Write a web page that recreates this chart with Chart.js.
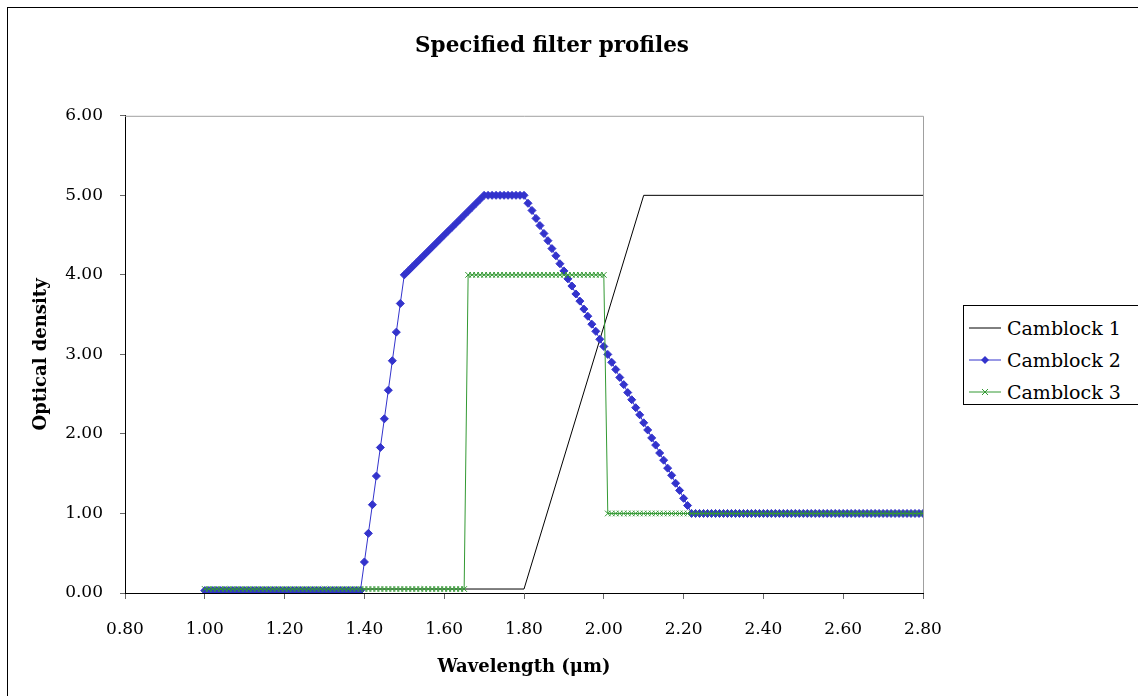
<!DOCTYPE html>
<html>
<head>
<meta charset="utf-8">
<script src="https://cdn.jsdelivr.net/npm/chart.js@4/dist/chart.umd.min.js"></script>
<style>
  body { margin: 0; background: #fff; }
  #wrap { position: relative; width: 1138px; height: 696px; overflow: hidden; }
  #frame { position: absolute; left: 7px; top: 7px; width: 1150px; height: 710px; border: 1px solid #000; box-sizing: border-box; }
  #chart { position: absolute; left: 0; top: 0; }
  #legend { position: absolute; left: 963px; top: 305px; width: 176px; height: 100px; border: 1px solid #000; box-sizing: border-box; background: #fff;
            font-family: "DejaVu Serif", serif; font-size: 19px; color: #000; padding-top: 6px; }
  #legend div { height: 32px; display: flex; align-items: center; }
  #legend svg { margin-left: 5px; margin-right: 6px; }
</style>
</head>
<body>
<div id="wrap">
  <div id="frame"></div>
  <canvas id="chart" width="1138" height="696"></canvas>
  <div id="legend"></div>
</div>
<script>
// wavelength grid (um)
const wavelength = [
  1.00,1.01,1.02,1.03,1.04,1.05,1.06,1.07,1.08,1.09,
  1.10,1.11,1.12,1.13,1.14,1.15,1.16,1.17,1.18,1.19,
  1.20,1.21,1.22,1.23,1.24,1.25,1.26,1.27,1.28,1.29,
  1.30,1.31,1.32,1.33,1.34,1.35,1.36,1.37,1.38,1.39,
  1.40,1.41,1.42,1.43,1.44,1.45,1.46,1.47,1.48,1.49,
  1.50,1.51,1.52,1.53,1.54,1.55,1.56,1.57,1.58,1.59,
  1.60,1.61,1.62,1.63,1.64,1.65,1.66,1.67,1.68,1.69,
  1.70,1.71,1.72,1.73,1.74,1.75,1.76,1.77,1.78,1.79,
  1.80,1.81,1.82,1.83,1.84,1.85,1.86,1.87,1.88,1.89,
  1.90,1.91,1.92,1.93,1.94,1.95,1.96,1.97,1.98,1.99,
  2.00,2.01,2.02,2.03,2.04,2.05,2.06,2.07,2.08,2.09,
  2.10,2.11,2.12,2.13,2.14,2.15,2.16,2.17,2.18,2.19,
  2.20,2.21,2.22,2.23,2.24,2.25,2.26,2.27,2.28,2.29,
  2.30,2.31,2.32,2.33,2.34,2.35,2.36,2.37,2.38,2.39,
  2.40,2.41,2.42,2.43,2.44,2.45,2.46,2.47,2.48,2.49,
  2.50,2.51,2.52,2.53,2.54,2.55,2.56,2.57,2.58,2.59,
  2.60,2.61,2.62,2.63,2.64,2.65,2.66,2.67,2.68,2.69,
  2.70,2.71,2.72,2.73,2.74,2.75,2.76,2.77,2.78,2.79,
  2.80
];

// Camblock 1 (corner points only, line without markers)
const camblock1X = [1.00, 1.80, 2.10, 2.80];
const camblock1Y = [0.05, 0.05, 5.00, 5.00];

// Camblock 2 on the wavelength grid
const camblock2 = [
  0.03,0.03,0.03,0.03,0.03,0.03,0.03,0.03,0.03,0.03,
  0.03,0.03,0.03,0.03,0.03,0.03,0.03,0.03,0.03,0.03,
  0.03,0.03,0.03,0.03,0.03,0.03,0.03,0.03,0.03,0.03,
  0.03,0.03,0.03,0.03,0.03,0.03,0.03,0.03,0.03,0.03,
  0.39,0.75,1.11,1.47,1.83,2.19,2.55,2.92,3.28,3.64,
  4.00,4.05,4.10,4.15,4.20,4.25,4.30,4.35,4.40,4.45,
  4.50,4.55,4.60,4.65,4.70,4.75,4.80,4.85,4.90,4.95,
  5.00,5.00,5.00,5.00,5.00,5.00,5.00,5.00,5.00,5.00,
  5.00,4.90,4.81,4.71,4.62,4.52,4.43,4.33,4.24,4.14,
  4.05,3.95,3.86,3.76,3.67,3.57,3.48,3.38,3.29,3.19,
  3.10,3.00,2.90,2.81,2.71,2.62,2.52,2.43,2.33,2.24,
  2.14,2.05,1.95,1.86,1.76,1.67,1.57,1.48,1.38,1.29,
  1.19,1.10,1.00,1.00,1.00,1.00,1.00,1.00,1.00,1.00,
  1.00,1.00,1.00,1.00,1.00,1.00,1.00,1.00,1.00,1.00,
  1.00,1.00,1.00,1.00,1.00,1.00,1.00,1.00,1.00,1.00,
  1.00,1.00,1.00,1.00,1.00,1.00,1.00,1.00,1.00,1.00,
  1.00,1.00,1.00,1.00,1.00,1.00,1.00,1.00,1.00,1.00,
  1.00,1.00,1.00,1.00,1.00,1.00,1.00,1.00,1.00,1.00,
  1.00
];

// Camblock 3 on the wavelength grid
const camblock3 = [
  0.05,0.05,0.05,0.05,0.05,0.05,0.05,0.05,0.05,0.05,
  0.05,0.05,0.05,0.05,0.05,0.05,0.05,0.05,0.05,0.05,
  0.05,0.05,0.05,0.05,0.05,0.05,0.05,0.05,0.05,0.05,
  0.05,0.05,0.05,0.05,0.05,0.05,0.05,0.05,0.05,0.05,
  0.05,0.05,0.05,0.05,0.05,0.05,0.05,0.05,0.05,0.05,
  0.05,0.05,0.05,0.05,0.05,0.05,0.05,0.05,0.05,0.05,
  0.05,0.05,0.05,0.05,0.05,0.05,4.00,4.00,4.00,4.00,
  4.00,4.00,4.00,4.00,4.00,4.00,4.00,4.00,4.00,4.00,
  4.00,4.00,4.00,4.00,4.00,4.00,4.00,4.00,4.00,4.00,
  4.00,4.00,4.00,4.00,4.00,4.00,4.00,4.00,4.00,4.00,
  4.00,1.00,1.00,1.00,1.00,1.00,1.00,1.00,1.00,1.00,
  1.00,1.00,1.00,1.00,1.00,1.00,1.00,1.00,1.00,1.00,
  1.00,1.00,1.00,1.00,1.00,1.00,1.00,1.00,1.00,1.00,
  1.00,1.00,1.00,1.00,1.00,1.00,1.00,1.00,1.00,1.00,
  1.00,1.00,1.00,1.00,1.00,1.00,1.00,1.00,1.00,1.00,
  1.00,1.00,1.00,1.00,1.00,1.00,1.00,1.00,1.00,1.00,
  1.00,1.00,1.00,1.00,1.00,1.00,1.00,1.00,1.00,1.00,
  1.00,1.00,1.00,1.00,1.00,1.00,1.00,1.00,1.00,1.00,
  1.00
];

const seriesNames = ['Camblock 1', 'Camblock 2', 'Camblock 3'];
const xTicks = [0.80, 1.00, 1.20, 1.40, 1.60, 1.80, 2.00, 2.20, 2.40, 2.60, 2.80];
const yTicks = [0, 1, 2, 3, 4, 5, 6];

const BLUE = '#3333cc';
const GREEN = '#339933';
const FONT = '"DejaVu Serif", serif';

function pairs(xs, ys) {
    return xs.map(function(x, i) { return { x: x, y: ys[i] }; });
}

// grey top/right edges of the plot area
const plotEdges = {
    id: 'plotEdges',
    beforeDatasetsDraw: function(chart) {
        const a = chart.chartArea;
        const ctx = chart.ctx;
        ctx.save();
        ctx.strokeStyle = '#a0a0a0';
        ctx.lineWidth = 1;
        ctx.beginPath();
        ctx.moveTo(a.left, a.top + 0.5);
        ctx.lineTo(a.right + 0.5, a.top + 0.5);
        ctx.lineTo(a.right + 0.5, a.bottom);
        ctx.stroke();
        ctx.restore();
    }
};

const ctx = document.getElementById('chart').getContext('2d');
new Chart(ctx, {
    type: 'line',
    data: {
        datasets: [
            {
                label: seriesNames[0],
                data: pairs(camblock1X, camblock1Y),
                borderColor: '#000',
                borderWidth: 1,
                pointRadius: 0,
                tension: 0,
                order: 3
            },
            {
                label: seriesNames[1],
                data: pairs(wavelength, camblock2),
                borderColor: BLUE,
                backgroundColor: BLUE,
                borderWidth: 1,
                pointStyle: 'rectRot',
                pointRadius: 4,
                pointBorderWidth: 1,
                pointBorderColor: BLUE,
                pointBackgroundColor: BLUE,
                tension: 0,
                order: 2
            },
            {
                label: seriesNames[2],
                data: pairs(wavelength, camblock3),
                borderColor: GREEN,
                backgroundColor: GREEN,
                borderWidth: 1,
                pointStyle: 'crossRot',
                pointRadius: 4,
                pointBorderWidth: 1,
                pointBorderColor: GREEN,
                tension: 0,
                order: 1
            }
        ]
    },
    options: {
        responsive: false,
        animation: false,
        events: [],
        layout: { padding: { left: 0, right: 34, top: 0, bottom: 0 } },
        plugins: {
            legend: { display: false },
            tooltip: { enabled: false },
            title: {
                display: true,
                text: 'Specified filter profiles',
                color: '#000',
                font: { family: FONT, size: 21.5, weight: 'bold', lineHeight: 1.2 },
                padding: { top: 34, bottom: 56 }
            }
        },
        scales: {
            x: {
                type: 'linear',
                min: 0.8,
                max: 2.8,
                afterFit: function(scale) { scale.height = 103; },
                afterBuildTicks: function(scale) {
                    scale.ticks = xTicks.map(function(v) { return { value: v }; });
                },
                border: { color: '#000', width: 1 },
                grid: { drawOnChartArea: false, drawTicks: true, tickLength: 6, color: '#666' },
                ticks: {
                    color: '#000',
                    padding: 20,
                    maxRotation: 0,
                    font: { family: FONT, size: 17 },
                    callback: function(value) { return value.toFixed(2); }
                },
                title: {
                    display: true,
                    text: 'Wavelength (μm)',
                    color: '#000',
                    font: { family: FONT, size: 18, weight: 'bold', lineHeight: 1.2 },
                    padding: { top: 0, bottom: 18 }
                }
            },
            y: {
                min: 0,
                max: 6,
                afterFit: function(scale) { scale.width = 125; },
                afterBuildTicks: function(scale) {
                    scale.ticks = yTicks.map(function(v) { return { value: v }; });
                },
                border: { color: '#000', width: 1 },
                grid: { drawOnChartArea: false, drawTicks: true, tickLength: 5, color: '#666' },
                ticks: {
                    color: '#000',
                    padding: 17,
                    font: { family: FONT, size: 17 },
                    callback: function(value) { return value.toFixed(2); }
                },
                title: {
                    display: true,
                    text: 'Optical density',
                    color: '#000',
                    font: { family: FONT, size: 18, weight: 'bold', lineHeight: 1.2 },
                    padding: { top: 31, bottom: 0 }
                }
            },
            // empty right-hand axis that keeps room for the legend
            yRight: {
                position: 'right',
                min: 0,
                max: 6,
                afterFit: function(scale) { scale.width = 181; },
                border: { display: false },
                grid: { display: false },
                ticks: { display: false }
            }
        }
    },
    plugins: [plotEdges]
});

// legend with line + marker samples
const legendSymbols = [
    '<line x1="0" y1="8" x2="32" y2="8" stroke="#000" stroke-width="1"/>',
    '<line x1="0" y1="8" x2="32" y2="8" stroke="' + BLUE + '" stroke-width="1"/><polygon points="16,4 20,8 16,12 12,8" fill="' + BLUE + '"/>',
    '<line x1="0" y1="8" x2="32" y2="8" stroke="' + GREEN + '" stroke-width="1"/><path d="M13 5 L19 11 M19 5 L13 11" stroke="' + GREEN + '" stroke-width="1"/>'
];
const legendEl = document.getElementById('legend');
seriesNames.forEach(function(name, i) {
    const row = document.createElement('div');
    row.innerHTML = '<svg width="32" height="16">' + legendSymbols[i] + '</svg><span>' + name + '</span>';
    legendEl.appendChild(row);
});
</script>
</body>
</html>
